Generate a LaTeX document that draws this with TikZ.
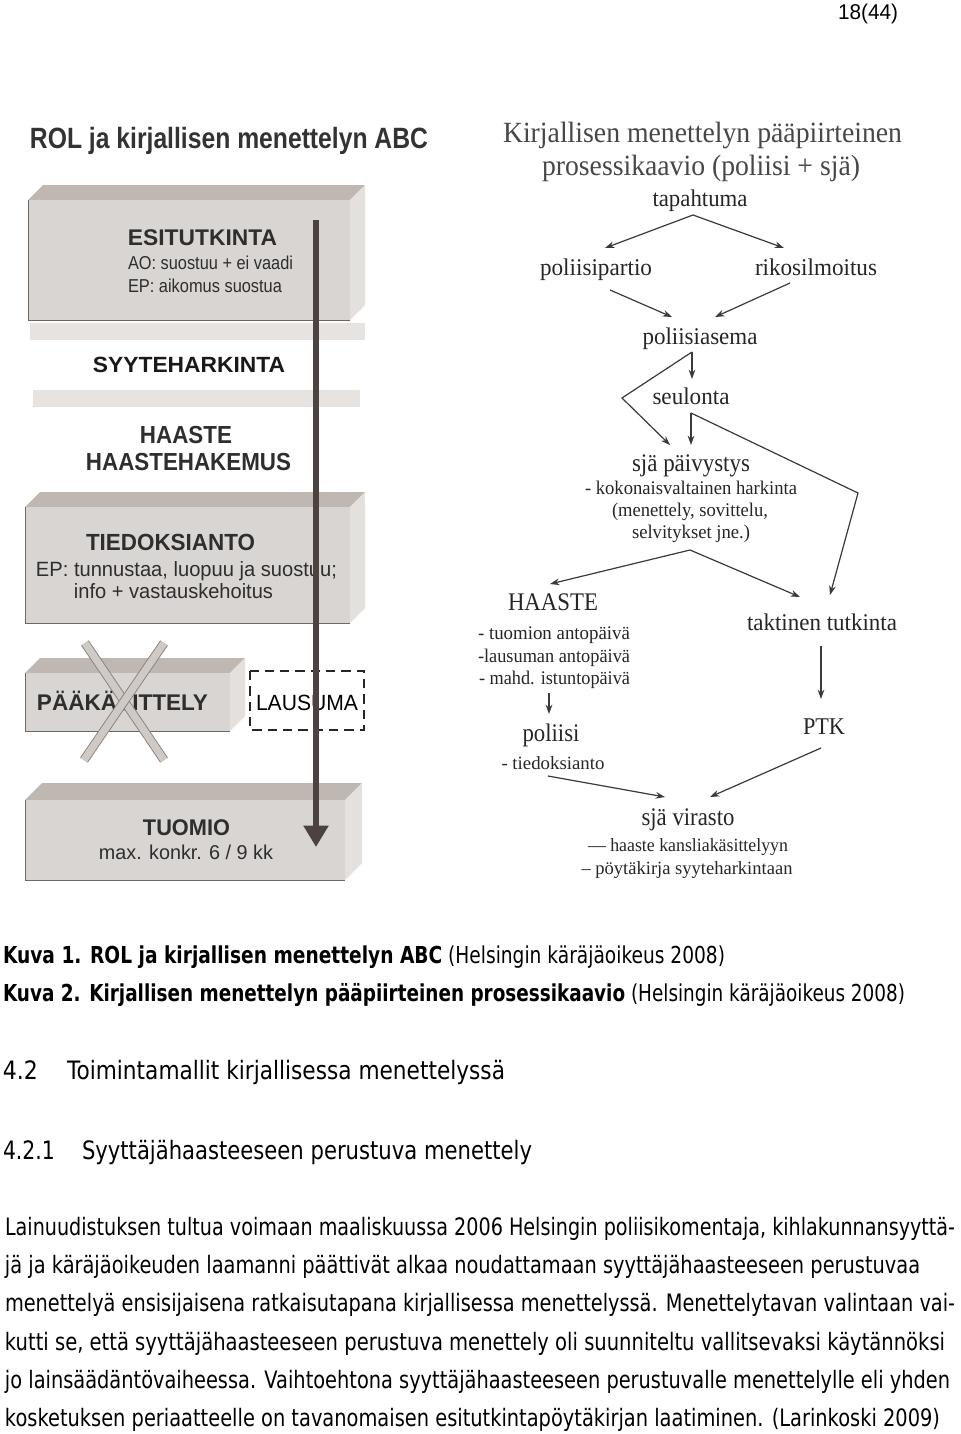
\documentclass[tikz,border=0pt]{standalone}
\usepackage{fontspec}
\usepackage{graphicx}
\usetikzlibrary{arrows.meta}
\setmainfont{Liberation Serif}
\newfontfamily\arialf{Liberation Sans}
\newfontfamily\tahf{DejaVu Sans}
\newlength\PX \setlength\PX{0.75pt}
\newcommand\fitt[2]{\vphantom{X}\smash{\resizebox{#1\PX}{\height}{#2}}}
\newcommand\AF[1]{\arialf\fontsize{#1}{#1}\selectfont}
\newcommand\AB[1]{\arialf\bfseries\fontsize{#1}{#1}\selectfont}
\newcommand\SF[1]{\rmfamily\fontsize{#1}{#1}\selectfont}
\newcommand\TF[1]{\tahf\fontsize{#1}{#1}\selectfont}
\definecolor{frontc}{HTML}{D9D5D2}
\definecolor{topc}{HTML}{BEB7B2}
\definecolor{sidec}{HTML}{E3E0DD}
\definecolor{bandc}{HTML}{E6E3E0}
\definecolor{edgec}{HTML}{6E6863}
\definecolor{boxtext}{HTML}{2E2E2E}
\definecolor{bigc}{HTML}{4C4340}
\definecolor{arrc}{HTML}{3A3A3A}
\definecolor{sertext}{HTML}{262626}
\definecolor{xedge}{HTML}{8A827D}
\definecolor{xfill}{HTML}{CFCAC6}
\newcommand\slab[5]{%
  \fill[topc] (#1,#2) -- (#1+#5,#2-#5) -- (#3+#5,#2-#5) -- (#3,#2) -- cycle;
  \fill[sidec] (#3,#2) -- (#3+#5,#2-#5) -- (#3+#5,#4-#5) -- (#3,#4) -- cycle;
  \fill[frontc] (#1,#2) rectangle (#3,#4);
  \draw[edgec, line width=0.6pt] (#1,#2) -- (#1,#4) -- (#3,#4);
}
\tikzset{
  txt/.style={inner sep=0pt, outer sep=0pt, text depth=0pt},
  lbox/.style={txt, text=boxtext},
  rser/.style={txt, text=sertext},
  body/.style={txt, anchor=west, text=black},
  arr/.style={draw=arrc, line width=0.9pt, -{Stealth[length=7pt,width=5pt]}},
  bigarr/.style={draw=bigc, line width=3.8pt, -{Triangle[length=16pt,width=18pt]}},
  xbar/.style={draw=xedge, line width=0.7pt, double=xfill, double distance=5.5pt},
  dashbox/.style={draw=black!85, line width=2.2pt, dash pattern=on 7pt off 4.5pt}
}
\begin{document}
\begin{tikzpicture}[x=0.75pt,y=-0.75pt]
\useasboundingbox (0,0) rectangle (960,1434);
\fill[white] (0,0) rectangle (960,1434);

% page number
\node[txt, font=\AF{16}] (pg) at (868,12) {\fitt{60}{18(44)}};

% ---------------- left diagram ----------------
\node[lbox, text=black!80, font=\AB{22}] (ltitle) at (229,138) {\fitt{398}{ROL ja kirjallisen menettelyn ABC}};

\slab{28}{200}{350}{320}{15}
\fill[bandc] (30,323) rectangle (365,340);
\fill[bandc] (33,390) rectangle (360,407);
\slab{25}{507}{350}{623}{15}
\slab{25}{673}{230}{731}{15}
\slab{25}{800}{345}{880}{17}

\node[lbox, font=\AB{17}] (esi) at (202.5,237.5) {\fitt{149}{ESITUTKINTA}};
\node[lbox, font=\AF{14}] (ao) at (210.5,263) {\fitt{165}{AO: suostuu + ei vaadi}};
\node[lbox, font=\AF{14}] (ep) at (205,286) {\fitt{154}{EP: aikomus suostua}};
\node[lbox, text=black!90, font=\AB{16.5}] (syy) at (189,365) {\fitt{192}{SYYTEHARKINTA}};
\node[lbox, font=\AB{18.5}] (haa) at (186,435) {\fitt{92}{HAASTE}};
\node[lbox, font=\AB{18.5}] (haak) at (188.5,462) {\fitt{205}{HAASTEHAKEMUS}};
\node[lbox, font=\AB{17.5}] (tie) at (170.5,542) {\fitt{169}{TIEDOKSIANTO}};
\node[lbox, font=\AF{15.5}] (ep2) at (186.5,569) {\fitt{301}{EP: tunnustaa, luopuu ja suostuu;}};
\node[lbox, font=\AF{15.5}] (info) at (173.5,591) {\fitt{199}{info + vastauskehoitus}};
\node[lbox, font=\AB{17}] (paa) at (122.5,703) {\fitt{171}{PÄÄKÄSITTELY}};
\node[lbox, text=black, font=\AF{16.5}] (lau) at (307,703) {\fitt{102}{LAUSUMA}};
\node[lbox, font=\AB{17}] (tuo) at (186.5,828) {\fitt{87}{TUOMIO}};
\node[lbox, font=\AF{15}] (max) at (186,853) {\fitt{174}{max. konkr. 6 / 9 kk}};

\draw[dashbox] (250,671) rectangle (364,730);
\draw[xbar] (85,643) -- (164,760);
\draw[xbar] (164,643) -- (84,760);

\coordinate (vtop) at (316,220);
\coordinate (vend) at (316,847);
\draw[bigarr] (vtop) -- (vend);

% ---------------- right diagram ----------------
\node[rser, text=black!72, font=\SF{22}] (rt1) at (702.5,133) {\fitt{399}{Kirjallisen menettelyn pääpiirteinen}};
\node[rser, text=black!72, font=\SF{22}] (rt2) at (701,166) {\fitt{318}{prosessikaavio (poliisi + sjä)}};
\node[rser, font=\SF{18}] (tap) at (700,199) {\fitt{95}{tapahtuma}};
\node[rser, font=\SF{18}] (pp) at (596,268) {\fitt{112}{poliisipartio}};
\node[rser, font=\SF{18}] (rik) at (816,268) {\fitt{122}{rikosilmoitus}};
\node[rser, font=\SF{18}] (pas) at (700,337) {\fitt{115}{poliisiasema}};
\node[rser, font=\SF{18}] (seu) at (691,397) {\fitt{77}{seulonta}};
\node[rser, font=\SF{19}] (sjp) at (691,463) {\fitt{118}{sjä päivystys}};
\node[rser, font=\SF{14.5}] (sjp2) at (691,488) {\fitt{212}{- kokonaisvaltainen harkinta}};
\node[rser, font=\SF{14.5}] (sjp3) at (690,510) {\fitt{156}{(menettely, sovittelu,}};
\node[rser, font=\SF{14.5}] (sjp4) at (691,532) {\fitt{118}{selvitykset jne.)}};
\node[rser, font=\SF{19}] (haaste) at (553,602) {\fitt{90}{HAASTE}};
\node[rser, anchor=west, font=\SF{14.5}] (hl1) at (478,633) {\fitt{152}{- tuomion antopäivä}};
\node[rser, anchor=west, font=\SF{14.5}] (hl2) at (478,656) {\fitt{152}{-lausuman antopäivä}};
\node[rser, anchor=west, font=\SF{14.5}] (hl3) at (479,678) {\fitt{151}{- mahd. istuntopäivä}};
\node[rser, font=\SF{19}] (pol) at (551,733) {\fitt{57}{poliisi}};
\node[rser, font=\SF{14}] (pol2) at (553,763) {\fitt{103}{- tiedoksianto}};
\node[rser, font=\SF{18}] (tak) at (822,623) {\fitt{150}{taktinen tutkinta}};
\node[rser, font=\SF{18}] (ptk) at (824,727) {\fitt{42}{PTK}};
\node[rser, font=\SF{19}] (vir) at (688,817) {\fitt{93}{sjä virasto}};
\node[rser, font=\SF{14}] (vir2) at (688,845) {\fitt{200}{— haaste kansliakäsittelyyn}};
\node[rser, font=\SF{14}] (vir3) at (687,868) {\fitt{211}{– pöytäkirja syyteharkintaan}};

\coordinate (t0) at (693,215);
\coordinate (t1) at (605,248);
\coordinate (t2) at (784,248);
\coordinate (p0) at (610,290);
\coordinate (p1) at (672,317);
\coordinate (r0) at (790,283);
\coordinate (r1) at (715,317);
\coordinate (a0) at (692,352);
\coordinate (a1) at (692,379);
\coordinate (ab) at (622,398);
\coordinate (a2) at (670,445);
\coordinate (s0) at (691,413);
\coordinate (s1) at (691,445);
\coordinate (sb) at (858,493);
\coordinate (s2) at (830,595);
\coordinate (j0) at (690,550);
\coordinate (j1) at (550,584);
\coordinate (j2) at (800,597);
\coordinate (k0) at (821,646);
\coordinate (k1) at (821,699);
\coordinate (h0) at (549,693);
\coordinate (h1) at (549,714);
\coordinate (q0) at (548,776);
\coordinate (q1) at (665,797);
\coordinate (x0) at (821,748);
\coordinate (x1) at (710,797);

\draw[arr] (t0) -- (t1);
\draw[arr] (t0) -- (t2);
\draw[arr] (p0) -- (p1);
\draw[arr] (r0) -- (r1);
\draw[arr] (a0) -- (a1);
\draw[arr] (a0) -- (ab) -- (a2);
\draw[arr] (s0) -- (s1);
\draw[arr] (s0) -- (sb) -- (s2);
\draw[arr] (j0) -- (j1);
\draw[arr] (j0) -- (j2);
\draw[arr] (k0) -- (k1);
\draw[arr] (h0) -- (h1);
\draw[arr] (q0) -- (q1);
\draw[arr] (x0) -- (x1);

% ---------------- captions and text ----------------
\node[body, font=\TF{17.5}] (k1cap) at (3,955) {\fitt{722}{\textbf{Kuva 1. ROL ja kirjallisen menettelyn ABC} (Helsingin käräjäoikeus 2008)}};
\node[body, font=\TF{17.5}] (k2cap) at (3,993) {\fitt{902}{\textbf{Kuva 2. Kirjallisen menettelyn pääpiirteinen prosessikaavio} (Helsingin käräjäoikeus 2008)}};
\node[body, font=\TF{19}] (h42n) at (3,1070) {\fitt{35}{4.2}};
\node[body, font=\TF{19}] (h42t) at (67,1070) {\fitt{438}{Toimintamallit kirjallisessa menettelyssä}};
\node[body, font=\TF{19}] (h421n) at (3,1150) {\fitt{52}{4.2.1}};
\node[body, font=\TF{19}] (h421t) at (82,1150) {\fitt{450}{Syyttäjähaasteeseen perustuva menettely}};

\node[body, font=\TF{18}] (b1) at (5,1227) {\fitt{950}{Lainuudistuksen tultua voimaan maaliskuussa 2006 Helsingin poliisikomentaja, kihlakunnansyyttä-}};
\node[body, font=\TF{18}] (b2) at (5,1265) {\fitt{915}{jä ja käräjäoikeuden laamanni päättivät alkaa noudattamaan syyttäjähaasteeseen perustuvaa}};
\node[body, font=\TF{18}] (b3) at (5,1303) {\fitt{950}{menettelyä ensisijaisena ratkaisutapana kirjallisessa menettelyssä. Menettelytavan valintaan vai-}};
\node[body, font=\TF{18}] (b4) at (5,1342) {\fitt{940}{kutti se, että syyttäjähaasteeseen perustuva menettely oli suunniteltu vallitsevaksi käytännöksi}};
\node[body, font=\TF{18}] (b5) at (5,1380) {\fitt{945}{jo lainsäädäntövaiheessa. Vaihtoehtona syyttäjähaasteeseen perustuvalle menettelylle eli yhden}};
\node[body, font=\TF{18}] (b6) at (5,1418) {\fitt{935}{kosketuksen periaatteelle on tavanomaisen esitutkintapöytäkirjan laatiminen. (Larinkoski 2009)}};
\end{tikzpicture}
\end{document}
